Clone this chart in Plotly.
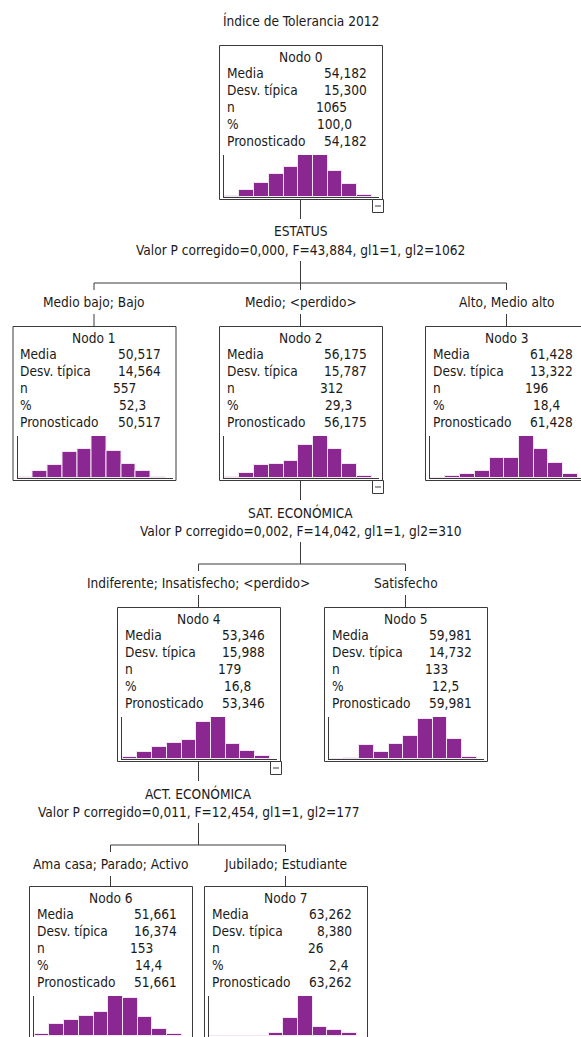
import plotly.graph_objects as go

# ---------------- data ----------------
title_text = "Índice de Tolerancia 2012"

node_names = ["Nodo 0", "Nodo 1", "Nodo 2", "Nodo 3", "Nodo 4", "Nodo 5", "Nodo 6", "Nodo 7"]
row_labels = ["Media", "Desv. típica", "n", "%", "Pronosticado"]
media = ["54,182", "50,517", "56,175", "61,428", "53,346", "59,981", "51,661", "63,262"]
desv_tipica = ["15,300", "14,564", "15,787", "13,322", "15,988", "14,732", "16,374", "8,380"]
n_casos = [1065, 557, 312, 196, 179, 133, 153, 26]
porcentaje = ["100,0", "52,3", "29,3", "18,4", "16,8", "12,5", "14,4", "2,4"]
pronosticado = ["54,182", "50,517", "56,175", "61,428", "53,346", "59,981", "51,661", "63,262"]

hist_bins = [0, 1, 2, 3, 4, 5, 6, 7, 8, 9]
hist_nodo0 = [6, 37, 73, 125, 159, 224, 223, 137, 68, 13]
hist_nodo1 = [4, 23, 44, 86, 97, 139, 91, 47, 22, 4]
hist_nodo2 = [2, 10, 24, 25, 32, 60, 77, 53, 25, 4]
hist_nodo3 = [0, 3, 6, 10, 27, 27, 57, 39, 21, 6]
hist_nodo4 = [2, 8, 13, 18, 21, 41, 47, 17, 9, 3]
hist_nodo5 = [0, 1, 11, 6, 12, 19, 32, 34, 16, 2]
hist_nodo6 = [2, 10, 14, 17, 20, 34, 32, 16, 6, 2]
hist_nodo7 = [0, 0, 0, 0, 1, 6, 13, 3, 2, 1]
hist_counts = [hist_nodo0, hist_nodo1, hist_nodo2, hist_nodo3,
               hist_nodo4, hist_nodo5, hist_nodo6, hist_nodo7]

split_parents = [0, 2, 4]
split_children = [[1, 2, 3], [4, 5], [6, 7]]
split_variables = ["ESTATUS", "SAT. ECONÓMICA", "ACT. ECONÓMICA"]
split_stats = ["Valor P corregido=0,000, F=43,884, gl1=1, gl2=1062",
               "Valor P corregido=0,002, F=14,042, gl1=1, gl2=310",
               "Valor P corregido=0,011, F=12,454, gl1=1, gl2=177"]
branch_labels = [["Medio bajo; Bajo", "Medio; <perdido>", "Alto, Medio alto"],
                 ["Indiferente; Insatisfecho; <perdido>", "Satisfecho"],
                 ["Ama casa; Parado; Activo", "Jubilado; Estudiante"]]

# ---------------- layout / style ----------------
FIG_W, FIG_H = 581, 1037
BOX_W, BOX_H = 163, 154
node_left = [219, 12.5, 219, 425, 117, 324, 29, 204]
node_top = [45, 326, 326, 326, 607, 607, 886, 886]
pct_right_off = [135, 135, 135, 137, 136, 137, 135, 147]
FONT = "DejaVu Sans Condensed, Liberation Sans Narrow, Arial Narrow, sans-serif"
FS = 13.6
TXT = "#1a1a1a"
LINE = "#3a3a3a"
BAR = "#8a2790"
PX_PER_BIN = 14.7

fig = go.Figure()
shapes = []
annotations = []


def line(x0, y0, x1, y1, color=LINE, w=1):
    shapes.append(dict(type="line", xref="x", yref="y", x0=x0, y0=y0, x1=x1, y1=y1,
                       line=dict(color=color, width=w), layer="above"))


def text(x, y, s, anchor="center"):
    annotations.append(dict(xref="x", yref="y", x=x, y=y, text=s, showarrow=False,
                            xanchor=anchor, yanchor="middle",
                            font=dict(family=FONT, size=FS, color=TXT)))


# invisible base axis covering the whole figure in pixel units
fig.add_trace(go.Scatter(x=[0, FIG_W], y=[0, FIG_H], mode="markers",
                         marker=dict(opacity=0), hoverinfo="skip", showlegend=False))

text(301, 20, title_text)

collapsible = set(split_parents)
for i in range(len(node_names)):
    L, T = node_left[i], node_top[i]
    cx = L + BOX_W / 2
    shapes.append(dict(type="rect", xref="x", yref="y", x0=L + 0.5, y0=T + 0.5,
                       x1=L + BOX_W + 0.5, y1=T + BOX_H + 0.5,
                       line=dict(color=LINE, width=1), fillcolor="rgba(0,0,0,0)", layer="below"))
    ys = [T + 11.5 + 16.9 * k for k in range(6)]
    text(cx, ys[0], node_names[i])
    for k, lab in enumerate(row_labels):
        text(L + 5.5, ys[k + 1], lab, "left")
    text(L + 150, ys[1], media[i], "right")
    text(L + 150, ys[2], desv_tipica[i], "right")
    text(L + 112, ys[3], str(n_casos[i]), "center")
    text(L + pct_right_off[i], ys[4], porcentaje[i], "right")
    text(L + 150, ys[5], pronosticado[i], "right")
    if i in collapsible:
        R, B = L + BOX_W, T + BOX_H
        shapes.append(dict(type="rect", xref="x", yref="y", x0=R - 10 + 0.5, y0=B + 0.5,
                           x1=R + 1.5, y1=B + 13.5, line=dict(color=LINE, width=1),
                           fillcolor="white", layer="above"))
        line(R - 7, B + 7, R - 1, B + 7)

    # histogram on its own axes
    ax = i + 2
    x0p = L + 5
    x1p = min(L + 160, FIG_W)
    yb = T + 152
    yt = T + 110
    ybp = min(yb, FIG_H)
    ymax = max(hist_counts[i])
    fig.add_trace(go.Bar(x=hist_bins, y=hist_counts[i], xaxis=f"x{ax}", yaxis=f"y{ax}",
                         marker=dict(color=BAR, line=dict(color="#f3e6f3", width=1)),
                         width=1.0, showlegend=False, hoverinfo="skip"))
    xr0 = -0.55
    xr1 = xr0 + (x1p - x0p) / PX_PER_BIN
    yr0 = -(yb - ybp) / (yb - yt) * ymax
    common = dict(showline=True, linecolor=LINE, linewidth=1, showticklabels=False,
                  showgrid=False, zeroline=False, ticks="", fixedrange=True)
    fig.update_layout(**{
        f"xaxis{ax}": dict(domain=[x0p / FIG_W, x1p / FIG_W], range=[xr0, xr1],
                           anchor=f"y{ax}", **common),
        f"yaxis{ax}": dict(domain=[1 - ybp / FIG_H, 1 - yt / FIG_H], range=[yr0, ymax],
                           anchor=f"x{ax}", **common),
    })

# split connectors and labels
for s, p in enumerate(split_parents):
    B = node_top[p] + BOX_H
    pcx = node_left[p] + BOX_W / 2
    line(pcx, B, pcx, B + 20)
    text(pcx, B + 32, split_variables[s])
    text(pcx, B + 51, split_stats[s])
    line(pcx, B + 62, pcx, B + 84)
    kids = split_children[s]
    cxs = [node_left[c] + BOX_W / 2 for c in kids]
    line(cxs[0], B + 84, cxs[-1], B + 84)
    for c, ccx, lab in zip(kids, cxs, branch_labels[s]):
        line(ccx, B + 84, ccx, B + 91)
        text(ccx, B + 103, lab)
        line(ccx, B + 115, ccx, node_top[c])

fig.update_layout(
    width=FIG_W, height=FIG_H,
    margin=dict(l=0, r=0, t=0, b=0),
    paper_bgcolor="white", plot_bgcolor="rgba(0,0,0,0)",
    xaxis=dict(range=[0, FIG_W], domain=[0, 1], visible=False, fixedrange=True),
    yaxis=dict(range=[FIG_H, 0], domain=[0, 1], visible=False, fixedrange=True),
    bargap=0,
    shapes=shapes,
    annotations=annotations,
    showlegend=False,
)

fig.write_html("out.html", config={"displayModeBar": False},
               post_script="document.body.style.margin='0';document.body.style.overflow='hidden';")
